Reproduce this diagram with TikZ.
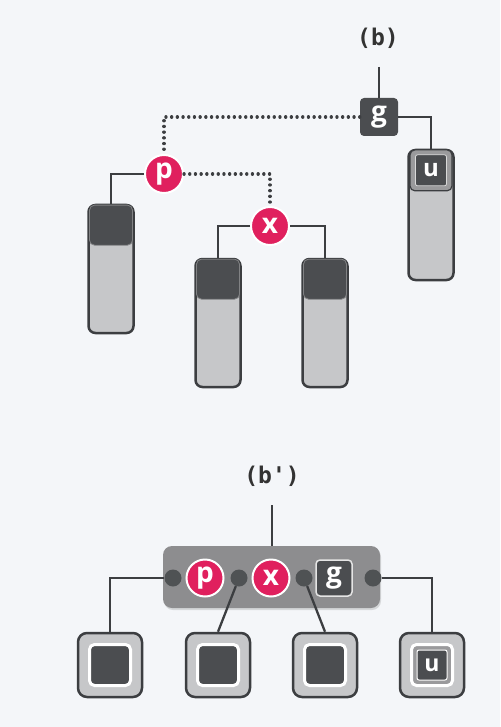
\documentclass[tikz,border=0pt]{standalone}
\usepackage{fontspec}
\newfontfamily\labfont{DejaVu Sans Mono}
\newfontfamily\ltrfont{Open Sans}
\usetikzlibrary{shadows}
\definecolor{bgc}{HTML}{F4F6F9}
\definecolor{lnc}{HTML}{3C3E41}
\definecolor{sqc}{HTML}{4B4D50}
\definecolor{lightc}{HTML}{C6C7C9}
\definecolor{pinkc}{HTML}{E0205E}
\definecolor{grpc}{HTML}{8D8D8F}
\definecolor{portc}{HTML}{4F5254}
\definecolor{ringc}{HTML}{9A9A9C}
\tikzset{
  conn/.style={draw=lnc, line width=2.3pt},
  dotconn/.style={draw=lnc, line width=3.3pt, line cap=round, dash pattern=on 0.1pt off 5.6pt},
  column/.style={draw=lnc, line width=2.5pt, fill=lightc, rounded corners=7pt,
    minimum width=45pt, minimum height=128pt, inner sep=0pt},
  coltop/.style={fill=sqc, draw=sqc!70!white, line width=0.8pt, rounded corners=5pt,
    minimum width=43pt, minimum height=40pt, inner sep=0pt},
  pinknode/.style={circle, fill=pinkc, draw=white, line width=2pt, minimum size=38pt,
    inner sep=0pt, text=white, font=\ltrfont\bfseries\fontsize{28}{28}\selectfont},
  gnode/.style={fill=sqc, rounded corners=4pt, minimum size=38pt, inner sep=0pt,
    text=white, font=\ltrfont\bfseries\fontsize{28}{28}\selectfont},
  lab/.style={font=\labfont\bfseries\fontsize{23}{26}\selectfont, text=black!80},
  port/.style={circle, fill=portc, minimum size=17pt, inner sep=0pt},
  outbox/.style={draw=lnc, line width=2.5pt, fill=lightc, rounded corners=9pt,
    minimum size=64pt, inner sep=0pt},
  inbox/.style={draw=white, line width=3pt, fill=sqc, rounded corners=5pt,
    minimum size=41pt, inner sep=0pt},
}
\begin{document}
\begin{tikzpicture}[x=1pt, y=-1pt]
\path[use as bounding box, fill=bgc] (0,0) rectangle (500,727);

% ---------- top: (b) ----------
\node[lab] (lb) at (378,38) {(b)};
\coordinate (gtop) at (379,67);
\node[gnode] (g) at (379,117) {g};
\node[pinknode] (p) at (164,174) {p};
\node[pinknode] (x) at (270,226) {x};

\node[column] (c1) at (111,269) {};
\node[coltop, anchor=north] (c1t) at ([yshift=-1pt]c1.north) {};
\node[column] (c2) at (218,323) {};
\node[coltop, anchor=north] (c2t) at ([yshift=-1pt]c2.north) {};
\node[column] (c3) at (325,323) {};
\node[coltop, anchor=north] (c3t) at ([yshift=-1pt]c3.north) {};
\node[column, minimum height=130pt] (uc) at (431,215) {};
\node[fill=ringc, draw=lnc, line width=1.2pt, rounded corners=5pt, minimum width=42pt,
  minimum height=41pt, inner sep=0pt, anchor=north] (uct) at ([yshift=-0.5pt]uc.north) {};
\node[fill=sqc, draw=white!85!black, line width=0.8pt, rounded corners=2pt,
  minimum size=31pt, inner sep=0pt, text=white,
  font=\ltrfont\bfseries\fontsize{24}{24}\selectfont] (ul) at (uct.center) {u};

\draw[conn] (gtop) -- (g.north);
\draw[dotconn] (g.west) -| (p.north);
\draw[dotconn] (p.east) -| (x.north);
\draw[conn] (g.east) -| (uc.north);
\draw[conn] (p.west) -| (c1.north);
\draw[conn] (x.west) -| (c2.north);
\draw[conn] (x.east) -| (c3.north);

% ---------- bottom: (b') ----------
\node[lab] (lbp) at (272,476) {(b')};
\coordinate (bptop) at (272,505);
\node[fill=grpc, rounded corners=9pt, minimum width=217pt, minimum height=62pt,
  drop shadow={opacity=0.25, shadow xshift=1pt, shadow yshift=-2pt}] (grp) at (271.5,577) {};
\node[port] (pt1) at (173,578) {};
\node[port] (pt2) at (239,578) {};
\node[port] (pt3) at (304,578) {};
\node[port] (pt4) at (373,578) {};
\node[pinknode, minimum size=37pt] (pb) at (205,578) {p};
\node[pinknode, minimum size=37pt] (xb) at (271,578) {x};
\node[gnode, draw=white!90!black, line width=1.5pt, minimum size=36pt] (gb) at (334,578) {g};

\node[outbox] (b1) at (110,665) {};
\node[inbox] (b1i) at (b1.center) {};
\node[outbox] (b2) at (218,665) {};
\node[inbox] (b2i) at (b2.center) {};
\node[outbox] (b3) at (325,665) {};
\node[inbox] (b3i) at (b3.center) {};
\node[outbox] (b4) at (432,665) {};
\node[inbox, fill=ringc] (b4i) at (b4.center) {};
\node[fill=sqc, draw=white, line width=1pt, rounded corners=2pt, minimum size=30pt,
  inner sep=0pt, text=white, font=\ltrfont\bfseries\fontsize{23}{24}\selectfont] (b4u) at (b4.center) {u};

\draw[conn] (bptop) -- (bptop |- grp.north);
\draw[conn] (pt1.west) -| (b1.north);
\draw[conn] (pt2) -- (b2.north);
\draw[conn] (pt3) -- (b3.north);
\draw[conn] (pt4.east) -| (b4.north);
\end{tikzpicture}
\end{document}
